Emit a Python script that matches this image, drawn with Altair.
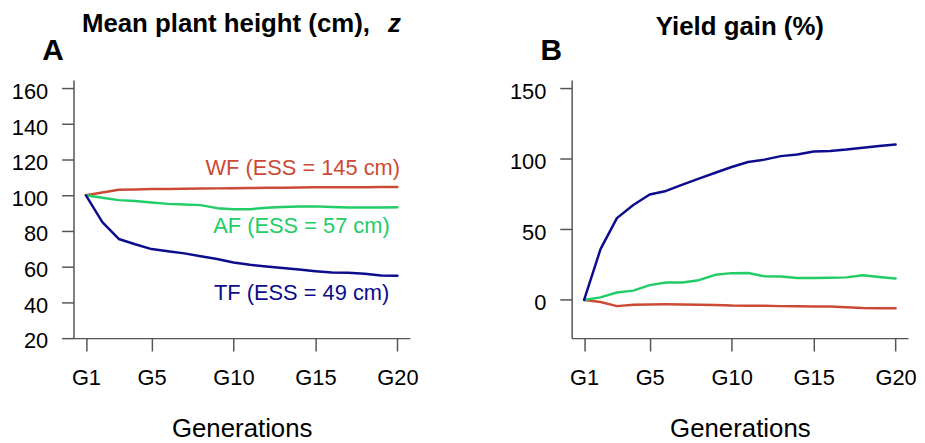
import altair as alt
import pandas as pd

generations = list(range(1, 21))
series_names = ["WF", "AF", "TF"]
series_colors = ["#cc4a35", "#22cc66", "#0c0c8c"]

height_wf = [100, 101.6, 103.1, 103.3, 103.5, 103.6, 103.7, 103.8, 103.9, 104.0,
             104.1, 104.2, 104.3, 104.4, 104.5, 104.5, 104.6, 104.6, 104.7, 104.7]
height_af = [100, 98.6, 97.3, 96.8, 96.0, 95.2, 94.9, 94.5, 92.8, 92.2,
             92.2, 93.0, 93.5, 93.7, 93.8, 93.5, 93.2, 93.1, 93.2, 93.3]
height_tf = [100, 85.0, 75.5, 72.5, 69.8, 68.6, 67.4, 65.8, 64.2, 62.3,
             61.0, 60.0, 59.2, 58.3, 57.4, 56.7, 56.5, 56.0, 55.0, 54.8]

yield_wf = [0, -1.5, -4.4, -3.5, -3.2, -3.1, -3.2, -3.5, -3.6, -4.0,
            -4.1, -4.2, -4.4, -4.5, -4.6, -4.7, -5.2, -5.8, -5.9, -5.9]
yield_af = [0, 1.8, 5.3, 6.6, 10.5, 12.4, 12.4, 14.0, 17.8, 19.0,
            19.1, 16.8, 16.6, 15.6, 15.6, 15.7, 16.0, 17.5, 16.2, 15.2]
yield_tf = [0, 36.0, 58.0, 67.3, 74.8, 77.3, 81.8, 86.0, 90.2, 94.3,
            97.8, 99.5, 102.0, 103.2, 105.3, 105.7, 106.7, 108.0, 109.2, 110.2]

label_texts = ["WF (ESS = 145 cm)", "AF (ESS = 57 cm)", "TF (ESS = 49 cm)"]
label_x = [20.16, 19.53, 19.5]
label_y = [111.2, 78.7, 41.4]

x_ticks = [1, 5, 10, 15, 20]
height_ticks = [20, 40, 60, 80, 100, 120, 140, 160]
yield_ticks = [0, 50, 100, 150]

W, H = 339, 260
FONT = "Liberation Sans"
X_DOMAIN = [0.24, 20.76]


def long_df(a, b, c):
    rows = []
    for name, vals in zip(series_names, [a, b, c]):
        for g, v in zip(generations, vals):
            rows.append({"gen": g, "value": v, "series": name})
    return pd.DataFrame(rows)


color_scale = alt.Scale(domain=series_names, range=series_colors)

x_enc = alt.X(
    "gen:Q",
    scale=alt.Scale(domain=X_DOMAIN, nice=False, zero=False),
    axis=alt.Axis(values=x_ticks, labelExpr="'G' + datum.value", title="Generations",
                  titleFontSize=26, titleFontWeight="normal", titleFont=FONT,
                  titleX=W / 2, titleY=99, titleBaseline="alphabetic", titleAlign="center",
                  titleAnchor="middle", labelOverlap=False, labelFlush=False,
                  labelPadding=17, tickSize=13),
)


def make_y(domain, ticks):
    return alt.Y(
        "value:Q",
        scale=alt.Scale(domain=domain, nice=False, zero=False),
        axis=alt.Axis(values=ticks, title=None, tickSize=12, labelPadding=14, labelOffset=3,
                      labelOverlap=False, labelFlush=False),
    )


def panel(df, y_enc, title_parts, letter, title_y):
    lines = alt.Chart(df).mark_line(strokeWidth=2.5, strokeCap="round", strokeJoin="round").encode(
        x=x_enc,
        y=y_enc,
        color=alt.Color("series:N", scale=color_scale, legend=None),
        detail="series:N",
    )
    layers = [lines]
    letter_df = pd.DataFrame({"t": [letter]})
    layers.append(alt.Chart(letter_df).mark_text(
        fontSize=30, fontWeight="bold", font=FONT, align="left", baseline="alphabetic", color="black"
    ).encode(text="t:N", x=alt.value(-31.5), y=alt.value(-20.5)))
    for part in title_parts:
        tdf = pd.DataFrame({"t": [part["text"]]})
        layers.append(alt.Chart(tdf).mark_text(
            fontSize=26, fontWeight="bold", font=FONT, align=part["align"],
            baseline="alphabetic", color="black", fontStyle=part.get("style", "normal")
        ).encode(text="t:N", x=alt.value(part["x"]), y=alt.value(title_y)))
    return layers


y_a = make_y([19.8, 164.7], height_ticks)
df_h = long_df(height_wf, height_af, height_tf)
layers_a = panel(
    df_h, y_a,
    [{"text": "Mean plant height (cm),", "x": 8.5, "align": "left"},
     {"text": "z", "x": 317.0, "align": "left", "style": "italic"}],
    "A", -48.5,
)
lab_df = pd.DataFrame({"gen": label_x, "value": label_y, "series": series_names, "label": label_texts})
labels = alt.Chart(lab_df).mark_text(
    fontSize=22, font=FONT, align="right", baseline="alphabetic"
).encode(
    x=x_enc,
    y=y_a,
    text="label:N",
    color=alt.Color("series:N", scale=color_scale, legend=None),
)
chart_a = alt.layer(*layers_a, labels).properties(width=W, height=H)

y_b = make_y([-27.1, 155.9], yield_ticks)
df_y = long_df(yield_wf, yield_af, yield_tf)
layers_b = panel(
    df_y, y_b,
    [{"text": "Yield gain (%)", "x": W / 2, "align": "center"}],
    "B", -45.0,
)
chart_b = alt.layer(*layers_b).properties(width=W, height=H)

chart = alt.hconcat(chart_a, chart_b, spacing=163, bounds="flush").configure(
    padding={"left": 3, "top": 1, "right": 0, "bottom": 0},
    background="white",
).configure_view(stroke=None).configure_axis(
    grid=False,
    domainColor="#555555",
    domainWidth=1.5,
    tickColor="#555555",
    tickWidth=1.5,
    labelFont=FONT,
    labelFontSize=22,
    labelColor="black",
    titleColor="black",
)

chart.save("out.html", embed_options={"renderer": "svg", "actions": False})
